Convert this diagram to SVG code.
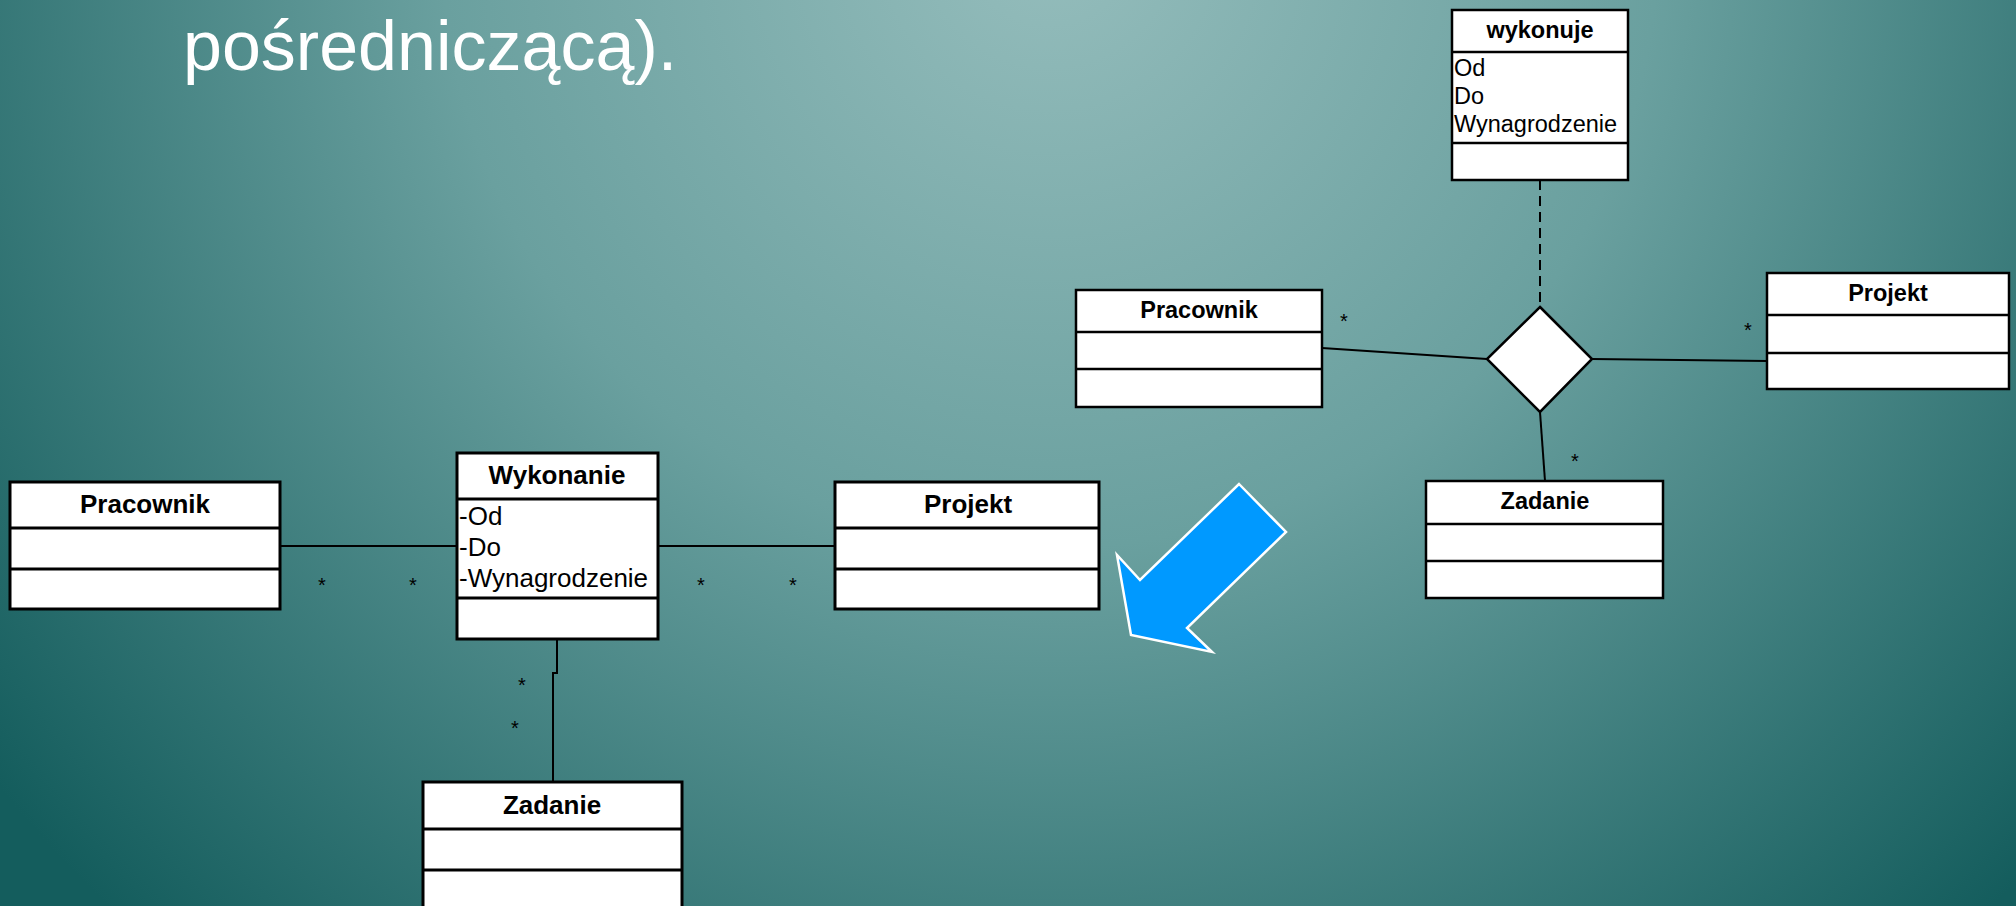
<svg xmlns="http://www.w3.org/2000/svg" width="2016" height="906" viewBox="0 0 2016 906">
<defs>
<radialGradient id="bg" gradientUnits="userSpaceOnUse" cx="1050" cy="-60" r="1350">
<stop offset="0" stop-color="#95bdbc"/>
<stop offset="0.45" stop-color="#6aa09f"/>
<stop offset="1" stop-color="#145d5d"/>
</radialGradient>
<style>
.box{fill:#fff;stroke:#000;stroke-width:3}
.boxr{fill:#fff;stroke:#000;stroke-width:2.5}
.div{stroke:#000;stroke-width:3}
.divr{stroke:#000;stroke-width:2.5}
.t{font-family:"Liberation Sans",Arial,sans-serif;font-weight:bold;font-size:26px;text-anchor:middle;fill:#000}
.tr{font-family:"Liberation Sans",Arial,sans-serif;font-weight:bold;font-size:23.5px;text-anchor:middle;fill:#000}
.a{font-family:"Liberation Sans",Arial,sans-serif;font-size:26px;fill:#000}
.ar{font-family:"Liberation Sans",Arial,sans-serif;font-size:23.5px;fill:#000}
.s{font-family:"Liberation Sans",Arial,sans-serif;font-size:20px;text-anchor:middle;fill:#000}
.ln{stroke:#000;stroke-width:2;fill:none}
</style>
</defs>
<rect x="0" y="0" width="2016" height="906" fill="url(#bg)"/>
<text x="183" y="70" font-family="'Liberation Sans',Arial,sans-serif" font-size="70" fill="#fff">pośredniczącą).</text>

<g id="connectors">
<line class="ln" x1="280" y1="546" x2="457" y2="546"/>
<line class="ln" x1="658" y1="546" x2="835" y2="546"/>
<polyline class="ln" points="557,639 557,673 553,673 553,782"/>
<line class="ln" x1="1540" y1="180" x2="1540" y2="307" stroke-dasharray="10,6"/>
<line class="ln" x1="1322" y1="348" x2="1487" y2="359"/>
<line class="ln" x1="1592" y1="359" x2="1767" y2="361"/>
<line class="ln" x1="1540" y1="412" x2="1545" y2="481"/>
<text class="s" x="322" y="592">*</text>
<text class="s" x="413" y="592">*</text>
<text class="s" x="701" y="592">*</text>
<text class="s" x="793" y="592">*</text>
<text class="s" x="522" y="692">*</text>
<text class="s" x="515" y="735">*</text>
<text class="s" x="1344" y="328">*</text>
<text class="s" x="1748" y="337">*</text>
<text class="s" x="1575" y="468">*</text>
</g>

<g id="pracownik-left">
<rect class="box" x="10" y="482" width="270" height="127"/>
<line class="div" x1="10" y1="528" x2="280" y2="528"/>
<line class="div" x1="10" y1="569" x2="280" y2="569"/>
<text class="t" x="145" y="513">Pracownik</text>
</g>

<g id="wykonanie">
<rect class="box" x="457" y="453" width="201" height="186"/>
<line class="div" x1="457" y1="499" x2="658" y2="499"/>
<line class="div" x1="457" y1="598" x2="658" y2="598"/>
<text class="t" x="557" y="484">Wykonanie</text>
<text class="a" x="459" y="525">-Od</text>
<text class="a" x="459" y="556">-Do</text>
<text class="a" x="459" y="587">-Wynagrodzenie</text>
</g>

<g id="projekt-left">
<rect class="box" x="835" y="482" width="264" height="127"/>
<line class="div" x1="835" y1="528" x2="1099" y2="528"/>
<line class="div" x1="835" y1="569" x2="1099" y2="569"/>
<text class="t" x="968" y="513">Projekt</text>
</g>

<g id="zadanie-left">
<rect class="box" x="423" y="782" width="259" height="140"/>
<line class="div" x1="423" y1="829" x2="682" y2="829"/>
<line class="div" x1="423" y1="870" x2="682" y2="870"/>
<text class="t" x="552" y="814">Zadanie</text>
</g>

<g id="arrow">
<polygon points="1239,484 1286,532 1187,628 1212,652 1131,635 1117,555 1140,580" fill="#0099ff" stroke="#fff" stroke-width="2.5"/>
</g>

<g id="wykonuje">
<rect class="boxr" x="1452" y="10" width="176" height="170"/>
<line class="divr" x1="1452" y1="52" x2="1628" y2="52"/>
<line class="divr" x1="1452" y1="143" x2="1628" y2="143"/>
<text class="tr" x="1540" y="38">wykonuje</text>
<text class="ar" x="1454" y="76">Od</text>
<text class="ar" x="1454" y="104">Do</text>
<text class="ar" x="1454" y="132">Wynagrodzenie</text>
</g>

<g id="diamond">
<polygon points="1540,307 1592,359 1540,412 1487,359" fill="#fff" stroke="#000" stroke-width="2.5"/>
</g>

<g id="pracownik-right">
<rect class="boxr" x="1076" y="290" width="246" height="117"/>
<line class="divr" x1="1076" y1="332" x2="1322" y2="332"/>
<line class="divr" x1="1076" y1="369" x2="1322" y2="369"/>
<text class="tr" x="1199" y="318">Pracownik</text>
</g>

<g id="projekt-right">
<rect class="boxr" x="1767" y="273" width="242" height="116"/>
<line class="divr" x1="1767" y1="315" x2="2009" y2="315"/>
<line class="divr" x1="1767" y1="353" x2="2009" y2="353"/>
<text class="tr" x="1888" y="301">Projekt</text>
</g>

<g id="zadanie-right">
<rect class="boxr" x="1426" y="481" width="237" height="117"/>
<line class="divr" x1="1426" y1="524" x2="1663" y2="524"/>
<line class="divr" x1="1426" y1="561" x2="1663" y2="561"/>
<text class="tr" x="1545" y="509">Zadanie</text>
</g>
</svg>
